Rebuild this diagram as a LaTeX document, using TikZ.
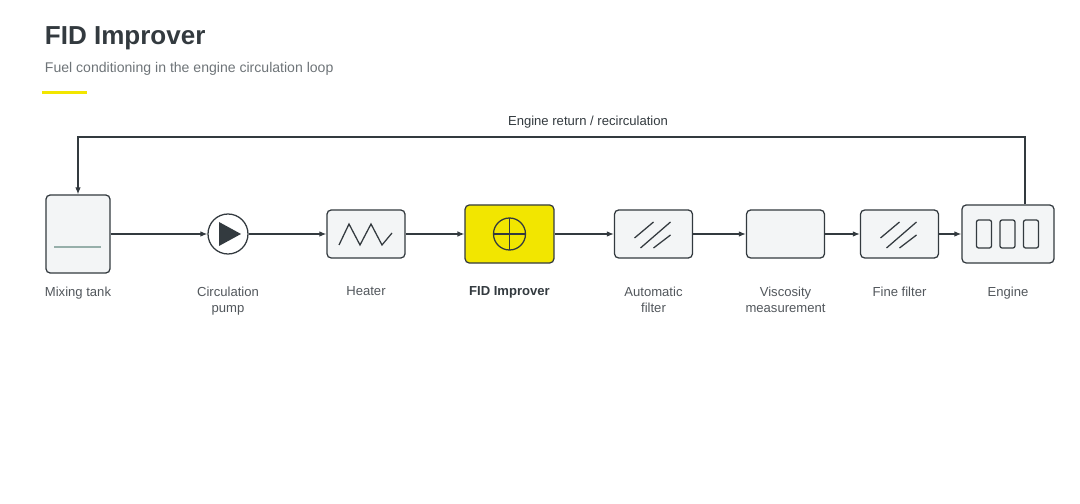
\documentclass[tikz,border=0pt]{standalone}
\usepackage{fontspec}
\setmainfont{Liberation Sans}
\usetikzlibrary{arrows.meta,positioning}
\definecolor{ink}{RGB}{51,58,63}
\definecolor{boxfill}{RGB}{243,245,246}
\definecolor{fidyellow}{RGB}{242,230,0}
\definecolor{subgray}{RGB}{110,116,120}
\definecolor{levelline}{RGB}{150,175,170}

\begin{document}
\begin{tikzpicture}[x=0.025cm,y=-0.025cm,
    unit/.style={rectangle, rounded corners=3pt, draw=ink, line width=0.9pt, fill=boxfill, minimum width=1.95cm, minimum height=1.2cm},
    caption/.style={font=\fontsize{9.3}{11.5}\selectfont, text=ink!85, align=center, anchor=north},
    flow/.style={-{Latex[length=5pt,width=4pt]}, line width=0.9pt, draw=ink},
    sym/.style={line width=0.9pt, draw=ink}
]
    \useasboundingbox (0,0) rectangle (1080,504);

    % header
    \node[anchor=west, font=\fontsize{18.5}{20}\selectfont\bfseries, text=ink] (title) at (40,38) {FID Improver};
    \node[anchor=west, font=\fontsize{10}{12}\selectfont, text=subgray] (subtitle) at (40,69) {Fuel conditioning in the engine circulation loop};
    \fill[fidyellow] (42,91) rectangle (87,94);

    % units
    \node[unit, minimum width=1.6cm, minimum height=1.95cm] (tank) at (78,234) {};
    \node[circle, draw=ink, line width=0.9pt, fill=white, minimum size=1cm] (pump) at (228,234) {};
    \node[unit] (heater) at (366,234) {};
    \node[unit, fill=fidyellow, minimum width=2.22cm, minimum height=1.45cm] (fid) at (509.5,234) {};
    \node[unit] (autofilter) at (653.5,234) {};
    \node[unit] (visco) at (785.5,234) {};
    \node[unit] (finefilter) at (899.5,234) {};
    \node[unit, minimum width=2.3cm, minimum height=1.45cm] (engine) at (1008,234) {};

    % symbols
    \draw[levelline, line width=1pt] (54,247) -- (101,247);
    \fill[ink] (219,222) -- (241,234) -- (219,246) -- cycle;
    \draw[sym] (339,245) -- (349,224) -- (360,245) -- (371,224) -- (382,245) -- (392,233);
    \draw[sym] (fid.center) circle (16);
    \draw[sym] (493.5,234) -- (525.5,234) (509.5,218) -- (509.5,250);
    \foreach \c in {autofilter,finefilter}{
        \draw[sym] ([shift={(-19,4)}]\c.center) -- ([shift={(0,-12)}]\c.center);
        \draw[sym] ([shift={(-13,14)}]\c.center) -- ([shift={(17,-12)}]\c.center);
        \draw[sym] ([shift={(0,14)}]\c.center) -- ([shift={(17,1)}]\c.center);
    }
    \foreach \dx in {-24,-0.5,23}
        \draw[sym, rounded corners=1.5pt] ([shift={(\dx-7.5,-14)}]engine.center) rectangle ([shift={(\dx+7.5,14)}]engine.center);

    % captions
    \node[caption] at (78,282) {Mixing tank};
    \node[caption] at (228,282) {Circulation\\pump};
    \node[caption] at (366,282) {Heater};
    \node[caption, font=\fontsize{9.3}{11.5}\selectfont\bfseries, text=ink] at (509.5,282) {FID Improver};
    \node[caption] at (653.5,282) {Automatic\\filter};
    \node[caption] at (785.5,282) {Viscosity\\measurement};
    \node[caption] at (899.5,282) {Fine filter};
    \node[caption] at (1008,282) {Engine};

    % flow
    \draw[flow] (tank) -- (pump);
    \draw[flow] (pump) -- (heater);
    \draw[flow] (heater) -- (fid);
    \draw[flow] (fid) -- (autofilter);
    \draw[flow] (autofilter) -- (visco);
    \draw[flow] (visco) -- (finefilter);
    \draw[flow] (finefilter) -- (engine);

    % return loop
    \coordinate (rtop) at (1025,137);
    \draw[flow] (engine.north -| rtop) -- (rtop) -- (rtop -| tank) -- (tank.north);
    \node[font=\fontsize{9.3}{11}\selectfont, text=ink] (looplabel) at (588,122) {Engine return / recirculation};
\end{tikzpicture}
\end{document}
